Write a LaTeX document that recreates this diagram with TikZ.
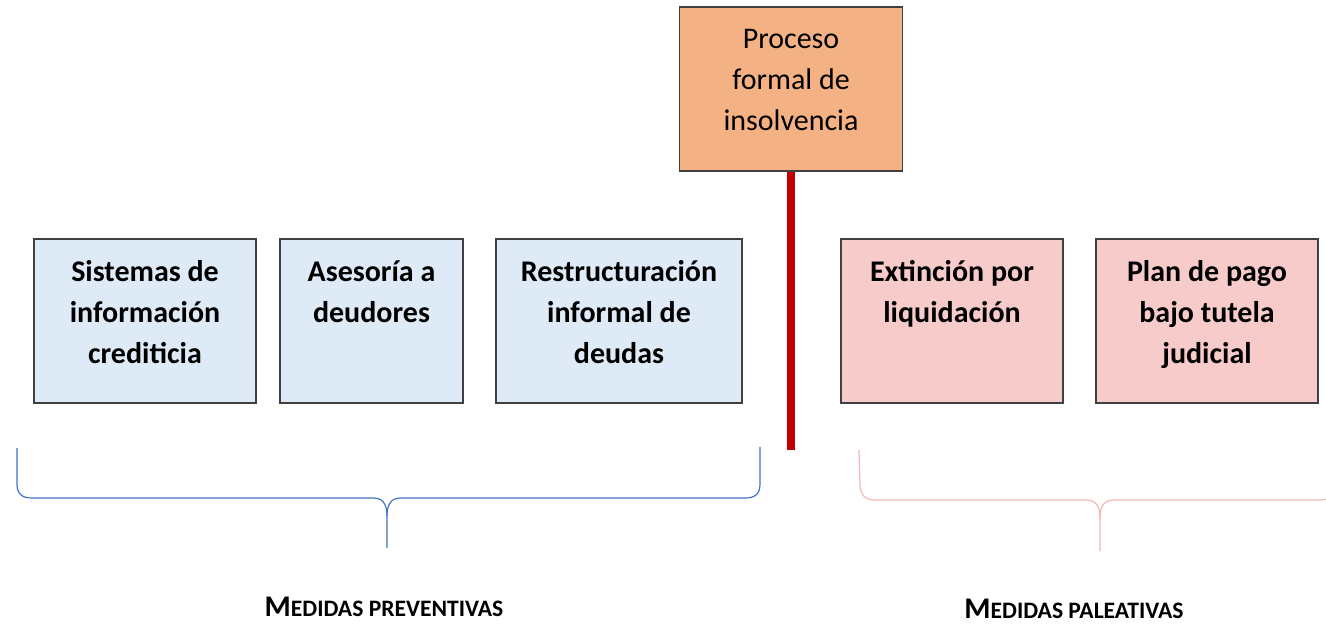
\documentclass[tikz,border=0pt]{standalone}
\usepackage{fontspec}
\setmainfont{Carlito}
\definecolor{procesofill}{HTML}{F4B183}
\definecolor{prevfill}{HTML}{DEEBF7}
\definecolor{palfill}{HTML}{F8CBCB}
\definecolor{lineared}{HTML}{C00000}
\definecolor{llaveblue}{HTML}{4472C4}
\definecolor{llavepink}{HTML}{F4B6B6}
\newcommand{\fakesc}[2]{{\fontsize{15}{18}\selectfont #1}{\fontsize{11.8}{14}\selectfont #2}}
\tikzstyle{central} = [rectangle, minimum width=111.5pt, minimum height=82pt, text width=105pt, inner sep=0pt, align=flush center, text height=0pt, text depth=40pt, draw=black!75, line width=0.75pt, fill=procesofill, font=\fontsize{15}{20.5}\selectfont]
\tikzstyle{preventiva} = [rectangle, minimum height=82pt, inner sep=0pt, align=flush center, text height=0pt, text depth=39pt, draw=black!75, line width=0.75pt, fill=prevfill, font=\fontsize{15}{20.5}\selectfont\bfseries]
\tikzstyle{paleativa} = [rectangle, minimum height=82pt, inner sep=0pt, align=flush center, text height=0pt, text depth=39pt, draw=black!75, line width=0.75pt, fill=palfill, font=\fontsize{15}{20.5}\selectfont\bfseries]
\tikzstyle{medida} = [anchor=base, inner sep=0pt, font=\bfseries]
\tikzstyle{linea} = [line width=4pt, draw=lineared]
\tikzstyle{llave} = [line width=0.6pt]

\begin{document}
\begin{tikzpicture}[x=0.5pt, y=0.5pt]
\useasboundingbox (0,0) rectangle (1326,-624);

% objects
\node (proceso) at (791,-89) [central] {Proceso\\formal de\\insolvencia};

\node (sistemas) at (145,-321) [preventiva, minimum width=111pt, text width=105pt] {Sistemas de\\informaci\'on\\crediticia};
\node (asesoria) at (371.5,-321) [preventiva, minimum width=91.5pt, text width=86pt] {Asesor\'ia a\\deudores};
\node (restructuracion) at (619,-321) [preventiva, minimum width=123pt, text width=117pt] {Restructuraci\'on\\informal de\\deudas};

\node (extincion) at (952,-321) [paleativa, minimum width=111pt, text width=105pt] {Extinci\'on por\\liquidaci\'on};
\node (plan) at (1207,-321) [paleativa, minimum width=111pt, text width=105pt] {Plan de pago\\bajo tutela\\judicial};

\node (preventivas) at (384,-616) [medida] {\fakesc{M}{EDIDAS PREVENTIVAS}};
\node (paleativas) at (1074,-618) [medida] {\fakesc{M}{EDIDAS PALEATIVAS}};

\coordinate (fin) at (791,-450);

% line
\draw [linea] (proceso.south) -- (fin);

% braces
\draw [llave, llaveblue] (17,-448) -- (17,-484) .. controls (17,-494) and (22,-498) .. (32,-498) -- (373,-498) .. controls (382,-498) and (387,-503) .. (387,-516) -- (387,-548);
\draw [llave, llaveblue] (387,-516) .. controls (387,-503) and (392,-498) .. (401,-498) -- (745,-498) .. controls (755,-498) and (760,-494) .. (760,-484) -- (760,-447);
\draw [llave, llavepink] (859,-450) -- (860,-486) .. controls (861,-495) and (865,-500) .. (875,-500) -- (1086,-500) .. controls (1095,-500) and (1100,-505) .. (1100,-518) -- (1100,-551);
\draw [llave, llavepink] (1100,-518) .. controls (1100,-505) and (1105,-500) .. (1114,-500) -- (1320,-500) .. controls (1330,-500) and (1335,-495) .. (1336,-486) -- (1337,-450);

\end{tikzpicture}
\end{document}
